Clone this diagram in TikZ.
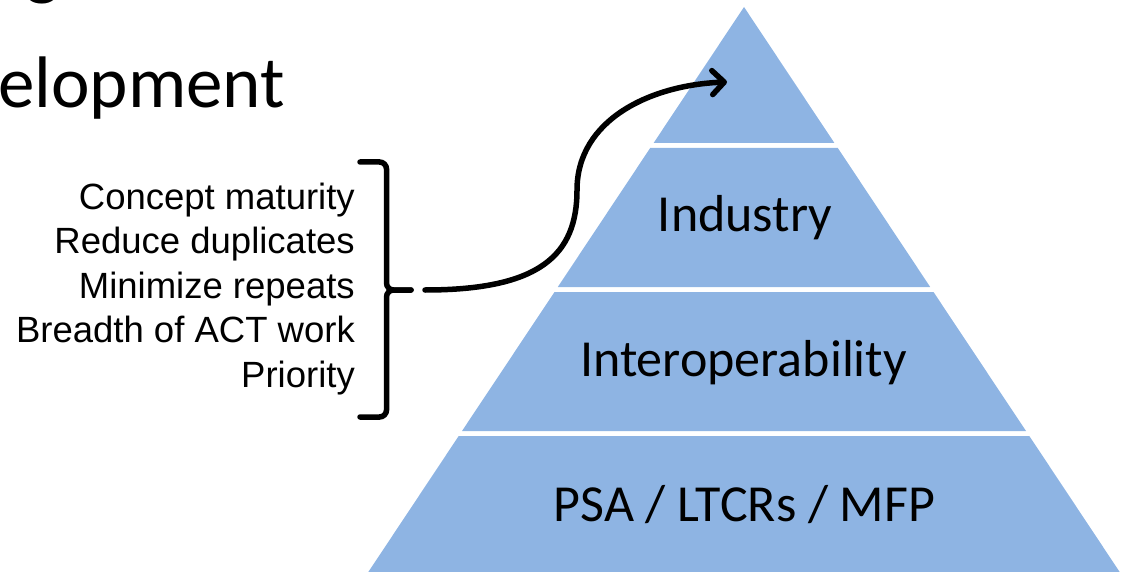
\documentclass[tikz,border=0pt]{standalone}
\usepackage{fontspec}
\setmainfont{Carlito}
\newfontfamily\listfont{Liberation Sans}
\usetikzlibrary{arrows.meta}
\definecolor{tierblue}{HTML}{8EB4E3}
\tikzset{
  tier/.style={fill=tierblue, draw=none},
  tierlabel/.style={anchor=base, inner sep=0pt, font=\fontsize{52}{60}\selectfont},
  listitem/.style={anchor=base east, inner sep=0pt, font=\listfont\fontsize{36.5}{44}\selectfont},
  titletext/.style={anchor=base west, inner sep=0pt, font=\fontsize{73}{80}\selectfont},
  bracket/.style={line width=5.5pt, rounded corners=7pt, line cap=round},
  flowarrow/.style={line width=5.5pt, line cap=round, -{Straight Barb[length=12pt,width=24pt,line cap=round,line join=round]}}
}
\begin{document}
\begin{tikzpicture}[x=1pt,y=-1pt]
\useasboundingbox (0,0) rectangle (1126,572);
% title fragments
\node[titletext] (gfrag) at (25,-8) {g};
\node[titletext] (title) at (-2,108) {elopment};
% pyramid tiers
\fill[tier] (744,7) -- (834.4,143) -- (653.6,143) -- cycle;
\coordinate (top) at (744,90);
\fill[tier] (650.2,148) -- (837.8,148) -- (930.2,287) -- (557.8,287) -- cycle;
\fill[tier] (554.5,292) -- (933.5,292) -- (1026,431) -- (462,431) -- cycle;
\fill[tier] (458.7,436) -- (1029.3,436) -- (1125,580) -- (363,580) -- cycle;
\node[tierlabel] (industry) at (745,231.5) {Industry};
\node[tierlabel] (interop) at (743.5,376.5) {Interoperability};
\node[tierlabel] (psa) at (744.5,521.5) {PSA / LTCRs / MFP};
% criteria list
\node[listitem] (c1) at (355,209) {Concept maturity};
\node[listitem] (c2) at (355,253.5) {Reduce duplicates};
\node[listitem] (c3) at (355,298) {Minimize repeats};
\node[listitem] (c4) at (355,342.5) {Breadth of ACT work};
\node[listitem] (c5) at (355,387) {Priority};
% bracket
\coordinate (brTop) at (360,162);
\coordinate (brBot) at (360,417);
\coordinate (brTip) at (411,290);
\draw[bracket] (brTop) -- (386.5,162) -- (386.5,290) -- (brTip);
\draw[bracket] (brBot) -- (386.5,417) -- (386.5,290) -- (brTip);
% arrow
\coordinate (arrowStart) at (425,290);
\coordinate (arrowEnd) at (727,82);
\coordinate (arrowMid) at (577,190);
\draw[flowarrow] (arrowStart) .. controls (540,290) and (577,255) .. (arrowMid)
  .. controls (577,120) and (650,85) .. (arrowEnd);
\end{tikzpicture}
\end{document}
